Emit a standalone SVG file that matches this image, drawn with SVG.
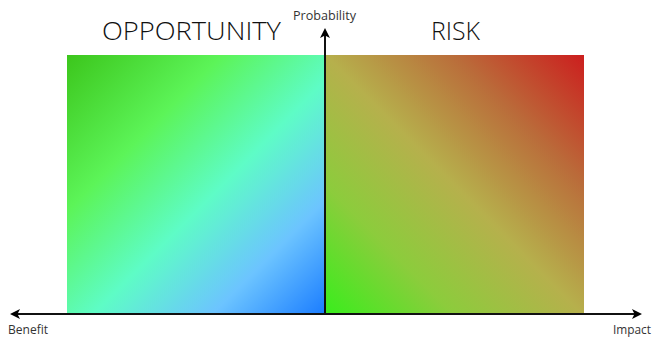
<svg xmlns="http://www.w3.org/2000/svg" width="652" height="338" viewBox="0 0 652 338">
<defs>
<linearGradient id="gOpp" x1="0" y1="0" x2="1" y2="1">
<stop offset="0" stop-color="#3cc61c"/>
<stop offset="0.3" stop-color="#5cf458"/>
<stop offset="0.55" stop-color="#5efcc6"/>
<stop offset="0.78" stop-color="#6cc4ff"/>
<stop offset="1" stop-color="#1a7cff"/>
</linearGradient>
<linearGradient id="gRisk" x1="0" y1="1" x2="1" y2="0">
<stop offset="0" stop-color="#38ee1c"/>
<stop offset="0.25" stop-color="#8ccc3c"/>
<stop offset="0.5" stop-color="#b6b04c"/>
<stop offset="0.75" stop-color="#ba6c3a"/>
<stop offset="1" stop-color="#cc1e1e"/>
</linearGradient>
<marker id="arr" markerWidth="10" markerHeight="10" refX="8" refY="5" orient="auto" markerUnits="userSpaceOnUse">
<path d="M0,0 L10,5 L0,10 L2.5,5 Z" fill="#000"/>
</marker>
<style>
.big{font-family:"Open Sans","Liberation Sans",sans-serif;font-weight:300;font-size:26px;fill:#111}
.small{font-family:"Open Sans","Liberation Sans",sans-serif;font-size:12px;fill:#333}
.axis{stroke:#111;stroke-width:2;fill:none}
</style>
</defs>
<g id="opportunity">
<rect x="67" y="55" width="258" height="260" fill="url(#gOpp)"/>
<text class="big" x="102" y="40" textLength="179" lengthAdjust="spacingAndGlyphs">OPPORTUNITY</text>
</g>
<g id="risk">
<rect x="325" y="55" width="259" height="260" fill="url(#gRisk)"/>
<text class="big" x="431" y="40" textLength="49" lengthAdjust="spacingAndGlyphs">RISK</text>
</g>
<g id="connectors">
<line class="axis" x1="325" y1="314" x2="325" y2="30" marker-end="url(#arr)"/>
<line class="axis" x1="325" y1="314" x2="640" y2="314" marker-end="url(#arr)"/>
<line class="axis" x1="325" y1="314" x2="12" y2="314" marker-end="url(#arr)"/>
</g>
<g id="labels">
<text class="small" x="293" y="20" textLength="63" lengthAdjust="spacingAndGlyphs">Probability</text>
<text class="small" x="8" y="334" textLength="40" lengthAdjust="spacingAndGlyphs">Benefit</text>
<text class="small" x="613" y="334" textLength="38" lengthAdjust="spacingAndGlyphs">Impact</text>
</g>
</svg>
